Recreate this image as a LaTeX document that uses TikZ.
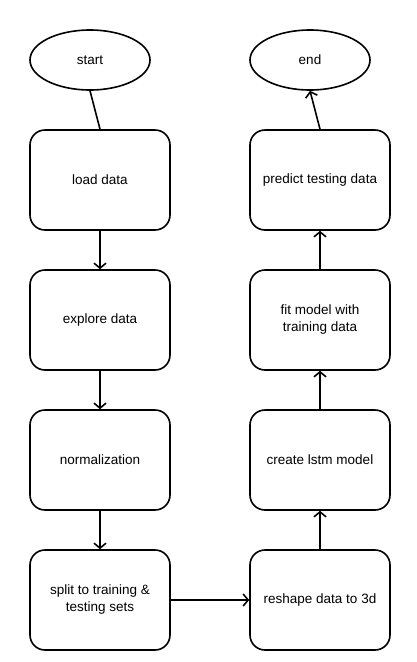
\documentclass[tikz,border=0pt]{standalone}
\usepackage{fontspec}
\setmainfont{Liberation Sans}
\usetikzlibrary{shapes.geometric, arrows.meta}

\begin{document}
\begin{tikzpicture}[x=1pt, y=-1pt, line width=1.6pt,
    every node/.style={font=\fontsize{13.5}{17}\selectfont, align=center},
    term/.style={ellipse, draw, minimum width=120pt, minimum height=60pt, inner sep=0pt},
    proc/.style={rectangle, draw, rounded corners=15pt, minimum width=140pt, minimum height=100pt, inner sep=0pt},
    flow/.style={-{Straight Barb[length=5pt, width=12pt]}}]
                \useasboundingbox (0,0) rectangle (417,662);
                \node[term] (start) at (90, 60) {start};
                \node[term] (end) at (310, 60) {end};
                \node[proc] (L1) at (100, 180) {load data};
                \node[proc] (L2) at (100, 320) {explore data};
                \node[proc] (L3) at (100, 460) {normalization};
                \node[proc] (L4) at (100, 600) {split to training \&\\testing sets};
                \node[proc] (R1) at (320, 600) {reshape data to 3d};
                \node[proc] (R2) at (320, 460) {create lstm model};
                \node[proc] (R3) at (320, 320) {fit model with\\training data};
                \node[proc] (R4) at (320, 180) {predict testing data};
                \draw (start.south) -- (L1.north);
                \foreach \i/\j in {1/2, 2/3, 3/4} {
                    \draw[flow] (L\i) -- (L\j);
                    \draw[flow] (R\i) -- (R\j);
                }
                \draw[flow] (L4) -- (R1);
                \draw[flow] (R4.north) -- (end.south);
            \end{tikzpicture}
\end{document}
